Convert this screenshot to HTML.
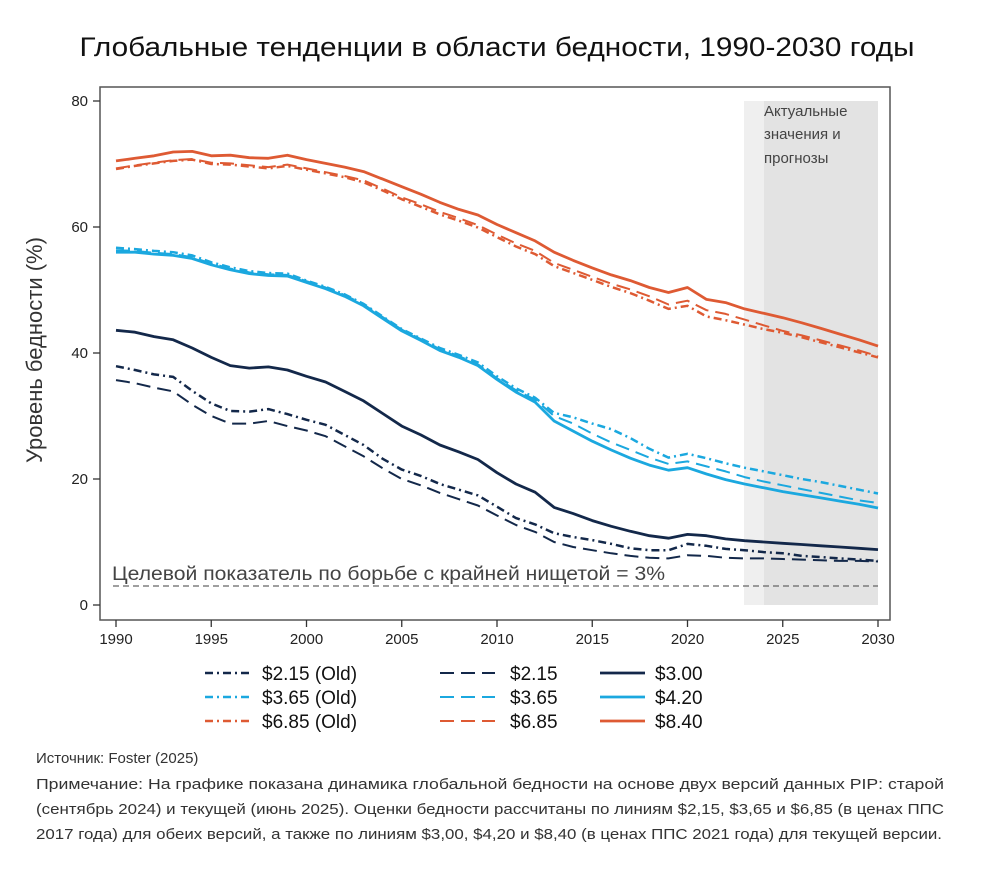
<!DOCTYPE html>
<html><head><meta charset="utf-8"><style>body{margin:0;background:#fff}svg{display:block}</style></head>
<body>
<svg id="c" width="995" height="869" font-family="Liberation Sans, sans-serif">
<text x="497" y="56" text-anchor="middle" font-size="27" fill="#111" textLength="835" lengthAdjust="spacingAndGlyphs">Глобальные тенденции в области бедности, 1990-2030 годы</text>
<rect x="744" y="101" width="20" height="504" fill="#efefef"/>
<rect x="764" y="101" width="114" height="504" fill="#e3e3e3"/>
<text font-size="15" fill="#444"><tspan x="764" y="116">Актуальные</tspan><tspan x="764" y="139">значения и</tspan><tspan x="764" y="163">прогнозы</tspan></text>
<rect x="100" y="87" width="790" height="533" fill="none" stroke="#555" stroke-width="1.5"/>
<g id="axes"></g>
<g id="series"></g>
<line x1="113" x2="878" y1="586" y2="586" stroke="#666" stroke-dasharray="6,4" stroke-width="1.2"/>
<text x="112" y="580" font-size="19" fill="#444" textLength="553" lengthAdjust="spacingAndGlyphs">Целевой показатель по борьбе с крайней нищетой = 3%</text>
<text transform="translate(42,350) rotate(-90)" text-anchor="middle" font-size="22" fill="#333">Уровень бедности (%)</text>
<g id="legend"></g>
<g font-size="15" fill="#333">
<text x="36" y="763">Источник: Foster (2025)</text>
<text x="36" y="789" textLength="908" lengthAdjust="spacingAndGlyphs">Примечание: На графике показана динамика глобальной бедности на основе двух версий данных PIP: старой</text>
<text x="36" y="814" textLength="908" lengthAdjust="spacingAndGlyphs">(сентябрь 2024) и текущей (июнь 2025). Оценки бедности рассчитаны по линиям $2,15, $3,65 и $6,85 (в ценах ППС</text>
<text x="36" y="839" textLength="906" lengthAdjust="spacingAndGlyphs">2017 года) для обеих версий, а также по линиям $3,00, $4,20 и $8,40 (в ценах ППС 2021 года) для текущей версии.</text>
</g>
</svg>
<script>
const years = Array.from({length:41},(_, i)=>1990+i);
const xTicks = [1990,1995,2000,2005,2010,2015,2020,2025,2030];
const yTicks = [0,20,40,60,80];
const s840 = [70.5,70.9,71.3,71.9,72.0,71.3,71.4,71.0,70.9,71.4,70.7,70.1,69.5,68.8,67.6,66.4,65.2,63.9,62.8,61.9,60.4,59.1,57.8,56.0,54.7,53.5,52.4,51.5,50.4,49.6,50.4,48.5,48.0,47.0,46.3,45.6,44.8,43.9,43.0,42.1,41.1];
const s685 = [69.3,69.8,70.2,70.6,70.8,70.2,70.1,69.8,69.5,69.9,69.3,68.7,68.1,67.4,66.1,64.7,63.6,62.4,61.4,60.3,58.8,57.4,56.2,54.3,53.2,52.1,51.0,50.1,49.0,47.7,48.3,46.8,46.2,45.3,44.4,43.5,42.8,42.0,41.2,40.4,39.5];
const s685old = [69.2,69.7,70.1,70.5,70.7,70.0,69.9,69.6,69.3,69.7,69.1,68.5,67.9,67.1,65.8,64.4,63.2,62.0,61.0,59.9,58.4,56.9,55.7,53.8,52.7,51.6,50.5,49.5,48.3,47.0,47.5,45.8,45.2,44.5,43.8,43.2,42.5,41.7,40.9,40.1,39.3];
const s420 = [56.0,56.0,55.7,55.5,55.0,54.0,53.2,52.6,52.3,52.2,51.2,50.2,49.0,47.5,45.5,43.5,42.0,40.4,39.3,38.0,35.8,33.8,32.2,29.2,27.6,26.0,24.6,23.3,22.2,21.4,21.8,20.8,19.9,19.2,18.6,18.0,17.5,17.0,16.5,16.0,15.4];
const s365 = [56.3,56.2,55.9,55.7,55.2,54.2,53.4,52.8,52.5,52.4,51.4,50.4,49.2,47.7,45.7,43.7,42.2,40.6,39.5,38.2,36.0,34.1,32.6,30.0,28.8,27.2,25.8,24.6,23.4,22.4,22.8,22.0,21.2,20.3,19.6,19.0,18.4,17.8,17.2,16.6,16.2];
const s365old = [56.7,56.5,56.2,56.0,55.5,54.4,53.6,53.0,52.7,52.6,51.5,50.5,49.3,47.8,45.8,43.8,42.3,40.8,39.7,38.5,36.3,34.4,32.9,30.5,29.8,28.8,27.9,26.5,24.8,23.4,24.0,23.3,22.5,21.8,21.2,20.6,20.0,19.5,18.9,18.3,17.7];
const s300 = [43.6,43.3,42.6,42.1,40.8,39.3,38.0,37.6,37.8,37.3,36.3,35.4,33.9,32.4,30.4,28.4,27.0,25.4,24.3,23.1,21.0,19.2,17.9,15.5,14.5,13.4,12.5,11.7,11.0,10.6,11.2,11.0,10.5,10.2,10.0,9.8,9.6,9.4,9.2,9.0,8.8];
const s215old = [37.9,37.3,36.6,36.2,34.0,32.0,30.8,30.7,31.1,30.3,29.4,28.6,27.0,25.4,23.2,21.5,20.5,19.2,18.3,17.4,15.6,13.8,12.8,11.4,10.8,10.3,9.7,9.0,8.7,8.7,9.7,9.4,8.9,8.7,8.4,8.2,7.8,7.6,7.4,7.2,7.0];
const s215 = [35.7,35.2,34.5,33.9,31.8,30.0,28.8,28.8,29.2,28.4,27.7,26.8,25.2,23.6,21.7,20.0,19.0,17.8,16.8,15.8,14.2,12.7,11.6,10.0,9.2,8.7,8.2,7.8,7.5,7.4,7.9,7.8,7.5,7.4,7.4,7.3,7.2,7.1,7.0,7.0,6.9];
const seriesLabels = ['$2.15 (Old)','$3.65 (Old)','$6.85 (Old)','$2.15','$3.65','$6.85','$3.00','$4.20','$8.40'];

const NS='http://www.w3.org/2000/svg';
const X=v=>116+(v-1990)*(878-116)/40;
const Y=v=>605-v*(605-101)/80;
const NAVY='#13284a',BLUE='#1ba8df',ORANGE='#de5a33';
const DD='8,4,2,4',DASH='14,7';
const defs=[
 {d:s215old,c:NAVY,da:DD,n:'line-215-old',w:2.5},
 {d:s365old,c:BLUE,da:DD,n:'line-365-old',w:2.5},
 {d:s685old,c:ORANGE,da:DD,n:'line-685-old',w:2.5},
 {d:s215,c:NAVY,da:DASH,n:'line-215',w:2},
 {d:s365,c:BLUE,da:DASH,n:'line-365',w:2},
 {d:s685,c:ORANGE,da:DASH,n:'line-685',w:2},
 {d:s300,c:NAVY,da:null,n:'line-300',w:2.8},
 {d:s420,c:BLUE,da:null,n:'line-420',w:2.8},
 {d:s840,c:ORANGE,da:null,n:'line-840',w:2.8}];
const mk=(t,a,p)=>{const e=document.createElementNS(NS,t);for(const k in a)e.setAttribute(k,a[k]);p.appendChild(e);return e;};
const ax=document.getElementById('axes');
xTicks.forEach(t=>{
 const l=mk('line',{x1:X(t),x2:X(t),y1:620,y2:627,stroke:'#333','stroke-width':1.3},ax);
 
 
 const tx=mk('text',{x:X(t),y:644,'text-anchor':'middle','font-size':15,fill:'#222'},ax);
 tx.textContent=t;
 
 
});
yTicks.forEach(t=>{
 const l=mk('line',{x1:93,x2:100,y1:Y(t),y2:Y(t),stroke:'#333','stroke-width':1.3},ax);
 
 
 const tx=mk('text',{x:88,y:Y(t)+5,'text-anchor':'end','font-size':15,fill:'#222'},ax);
 tx.textContent=t;
 
 
});
const sg=document.getElementById('series');
defs.forEach(s=>{
 const pts=s.d.map((v,i)=>X(years[i]).toFixed(1)+','+Y(v).toFixed(1)).join(' ');
 const a={points:pts,fill:'none',stroke:s.c,'stroke-width':s.w,'stroke-linejoin':'round'};
 if(s.da)a['stroke-dasharray']=s.da;
 const p=mk('polyline',a,sg);
 
 
});
const lg=document.getElementById('legend');
const cols=[[205,250,262],[440,495,510],[600,645,655]];
const order=[0,1,2,3,4,5,6,7,8];
order.forEach((k,i)=>{
 const col=Math.floor(i/3),row=i%3,s=defs[k],y=673+row*24,c=cols[col];
 const a={x1:c[0],x2:c[1],y1:y,y2:y,stroke:s.c,'stroke-width':s.w};
 if(s.da)a['stroke-dasharray']=s.da;
 const l=mk('line',a,lg);
 
 
 const t=mk('text',{x:c[2],y:y+7,'font-size':19,fill:'#111'},lg);
 t.textContent=seriesLabels[k];
 
 
});
</script>
</body></html>
